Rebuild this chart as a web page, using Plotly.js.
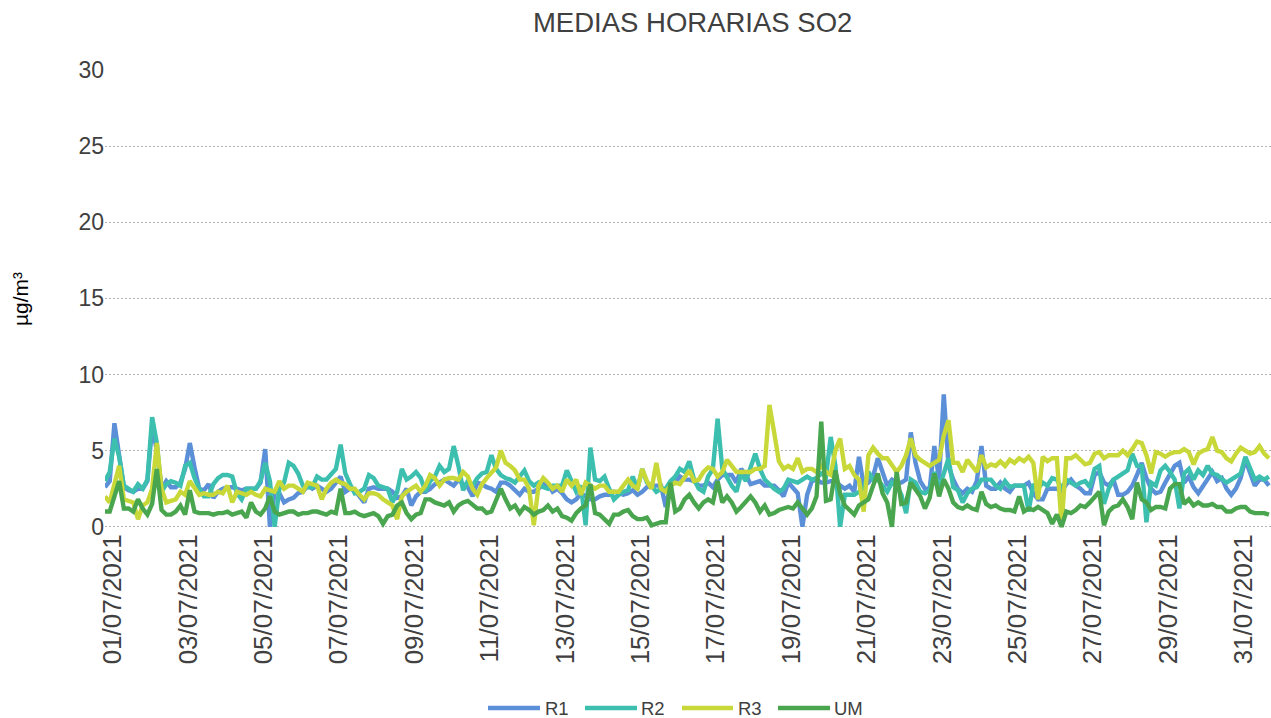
<!DOCTYPE html>
<html>
<head>
<meta charset="utf-8">
<script src="https://cdn.plot.ly/plotly-3.0.1.min.js"></script>
<style>html,body{margin:0;padding:0;background:#fff;}#chart{width:1271px;height:718px;}</style>
</head>
<body>
<div id="chart"></div>
<script>
// Hourly SO2 means, July 2021, sampled every 3 hours (8 readings per day, days 1..31)
const startDate = '2021-07-01';
const stepHours = 3;
const seriesNames = ['R1', 'R2', 'R3', 'UM'];
const tickLabels = ['01/07/2021','03/07/2021','05/07/2021','07/07/2021','09/07/2021','11/07/2021','13/07/2021','15/07/2021','17/07/2021','19/07/2021','21/07/2021','23/07/2021','25/07/2021','27/07/2021','29/07/2021','31/07/2021'];

const R1 = [
2.6,3.0,6.8,4.5,2.6,2.4,2.3,2.5,
2.5,3.0,6.6,5.0,2.5,3.0,2.6,2.6,
2.9,3.8,5.5,3.9,2.5,2.4,2.8,1.9,
2.3,2.5,2.6,2.6,2.5,2.4,2.5,2.5,
2.5,2.9,5.1,0.0,2.3,2.2,1.6,1.8,
1.9,2.2,2.3,2.7,2.5,2.7,2.5,2.3,
2.5,2.9,3.3,2.3,2.5,2.4,2.0,1.6,
2.5,2.6,2.5,2.5,2.5,2.3,1.9,2.0,
2.5,1.4,2.0,2.3,2.3,2.5,2.8,2.9,
3.1,2.9,2.7,3.1,2.8,2.6,2.0,2.9,
2.8,2.6,2.5,2.3,2.9,2.9,2.7,2.4,
2.1,2.5,2.3,2.3,2.5,2.8,2.8,2.3,
2.5,2.2,1.8,1.6,1.8,2.2,2.0,1.8,
1.8,2.0,2.1,2.1,2.3,2.2,2.1,2.2,
2.4,2.1,2.3,2.6,2.7,2.7,2.7,1.3,
2.7,2.9,3.3,3.1,3.1,3.0,2.7,2.7,
2.9,2.6,3.1,3.4,3.4,3.4,2.9,3.8,
3.4,2.8,2.9,3.0,2.7,2.7,2.7,2.4,
2.0,2.9,2.6,2.2,0.0,2.1,3.0,3.1,
2.9,2.9,3.0,3.0,2.7,2.5,2.7,2.3,
4.6,2.7,2.9,3.3,4.5,3.6,2.7,3.1,
2.9,2.9,3.1,6.2,4.2,3.0,2.5,2.5,
5.3,3.1,8.7,4.0,3.1,2.5,2.2,2.5,
2.3,3.0,5.3,2.7,2.5,2.5,2.9,2.5,
2.3,2.7,2.7,2.7,2.9,2.2,1.8,1.8,
2.5,2.5,2.5,2.3,2.8,3.1,2.7,2.5,
2.2,2.2,3.4,3.6,2.9,2.7,3.1,2.1,
2.1,2.3,2.7,3.4,4.2,3.2,2.5,2.2,
2.3,2.9,3.5,4.0,4.2,2.9,3.3,2.6,
2.2,2.7,3.1,3.6,3.0,3.2,2.5,2.1,
2.5,3.2,4.4,3.6,2.7,3.1,3.1,2.7
];

const R2 = [
3.0,3.6,5.8,4.6,2.7,2.5,2.3,2.8,
2.5,3.1,7.2,5.5,2.3,2.8,3.0,2.9,
2.7,4.0,4.2,3.2,2.5,2.0,2.0,2.8,
3.2,3.4,3.4,3.3,2.2,1.8,2.5,2.5,
2.5,3.0,4.2,3.0,0.0,2.5,2.9,4.2,
4.0,3.5,2.7,2.6,2.6,3.3,3.1,3.1,
3.5,3.8,5.4,3.5,2.8,2.2,2.3,2.5,
3.4,3.2,2.7,2.6,2.5,1.6,2.3,3.8,
3.1,3.3,3.6,3.2,2.3,3.0,3.3,4.0,
3.6,3.8,5.3,4.0,2.4,3.0,2.7,3.2,
3.5,3.6,4.7,3.8,3.4,3.2,3.1,2.9,
3.3,3.7,3.0,2.7,2.9,2.6,2.5,2.7,
2.7,2.7,3.7,2.9,2.3,2.7,0.1,5.2,
3.1,3.0,3.3,2.5,1.8,2.1,2.3,2.4,
3.3,2.5,3.8,2.9,2.7,2.3,2.5,2.5,
3.0,3.3,3.8,3.6,4.3,3.1,2.5,2.3,
3.3,3.8,7.1,3.8,3.2,2.7,2.3,3.5,
3.0,3.9,4.8,3.8,3.1,2.8,2.5,2.3,
2.5,3.1,3.0,2.9,3.1,3.3,3.1,3.2,
3.5,3.3,5.9,4.0,0.0,2.1,2.1,2.1,
2.3,2.5,3.6,3.1,3.1,2.7,2.3,2.9,
2.7,2.1,0.9,3.1,2.9,2.3,2.2,2.4,
3.6,2.5,3.6,4.5,2.6,2.4,1.6,2.2,
2.5,2.6,3.1,3.1,3.1,2.7,2.5,3.0,
2.6,2.7,2.7,2.7,1.0,2.8,2.5,2.9,
2.7,3.2,3.1,2.5,3.1,2.9,2.7,2.9,
3.0,2.6,3.8,4.0,1.5,2.5,3.1,3.3,
3.5,3.7,4.8,4.0,4.0,0.3,2.9,2.7,
3.7,4.0,3.6,3.1,1.2,3.5,3.8,3.1,
3.7,3.4,4.0,3.5,3.4,3.1,2.9,3.1,
3.3,3.5,4.6,3.8,3.1,3.3,3.1,3.3
];

const R3 = [
2.0,1.6,2.8,4.0,1.8,1.7,1.6,0.5,
1.4,1.6,2.5,5.5,2.5,1.6,1.7,1.8,
2.3,2.1,3.0,2.5,2.1,2.2,2.1,2.1,
2.3,2.2,2.7,1.6,2.3,2.2,2.1,2.3,
2.1,2.0,2.5,2.4,2.3,3.0,2.5,2.7,
2.7,2.5,2.3,2.9,2.8,2.7,1.8,2.5,
2.9,3.1,2.9,2.8,2.5,2.5,2.1,1.8,
2.2,2.2,2.1,1.8,1.6,1.4,0.5,2.0,
2.3,2.5,2.7,2.3,2.7,3.4,3.2,2.7,
3.1,3.2,3.2,3.1,3.6,3.3,2.5,2.1,
2.8,3.2,3.6,3.9,5.0,4.2,4.0,3.7,
3.1,3.1,2.5,0.1,2.7,3.2,2.9,2.5,
2.7,2.3,3.1,2.7,3.1,2.1,2.9,2.7,
2.5,2.7,2.7,2.3,2.3,2.3,2.7,3.1,
2.7,2.5,3.8,3.0,2.5,4.2,2.5,2.3,
2.7,2.9,2.8,3.2,3.7,3.0,3.1,3.6,
3.9,3.8,3.3,3.6,4.4,4.0,3.6,3.6,
3.6,3.6,3.8,3.8,4.0,8.0,6.2,4.3,
3.8,4.0,3.8,4.5,3.6,3.8,3.8,3.6,
4.0,3.6,3.4,5.0,5.8,3.8,4.0,3.4,
3.1,1.0,4.7,5.2,4.8,4.5,4.5,4.0,
3.6,4.0,4.7,5.8,4.7,4.4,4.2,4.0,
4.2,4.4,6.0,7.0,4.2,4.2,3.6,4.4,
4.0,3.6,4.7,3.9,4.1,4.0,4.3,4.0,
4.4,4.2,4.5,4.3,4.6,4.2,1.8,4.6,
4.3,4.5,4.5,0.1,4.5,4.5,4.7,4.4,
4.1,4.2,4.8,4.9,4.5,4.7,4.7,4.7,
5.0,4.7,5.1,5.6,5.5,4.7,3.5,4.9,
4.8,4.6,4.8,4.9,4.9,5.1,4.9,4.1,
4.8,5.0,5.1,5.9,5.0,4.9,4.5,4.3,
4.8,5.2,5.0,4.8,4.9,5.3,4.8,4.5
];

const UM = [
1.0,1.0,2.0,3.0,1.2,1.2,1.0,1.8,
1.2,0.8,1.5,3.8,1.1,0.8,0.8,1.0,
1.4,0.8,2.4,1.0,0.9,0.9,0.9,0.8,
0.9,0.9,1.0,0.8,0.9,1.0,0.6,1.6,
1.0,0.8,1.2,2.0,1.0,0.8,0.9,1.0,
1.0,0.8,0.9,0.9,1.0,1.0,0.9,0.8,
1.0,0.9,2.5,0.9,0.9,1.0,0.8,0.7,
0.8,0.9,0.7,0.2,0.7,0.8,1.4,1.6,
0.9,0.5,0.8,0.9,1.8,1.8,1.6,1.5,
1.4,1.6,1.0,1.4,1.6,1.7,1.4,1.2,
1.2,0.9,1.0,1.7,2.5,1.8,1.2,1.4,
0.9,1.3,1.1,0.8,1.0,1.1,1.4,1.0,
1.2,0.7,0.6,0.4,0.9,1.2,1.4,2.8,
0.9,0.8,0.5,0.2,0.8,0.8,1.0,1.1,
0.7,0.5,0.5,0.6,0.1,0.2,0.3,0.3,
2.9,1.0,1.2,1.8,2.1,1.6,1.2,1.6,
1.8,1.6,3.0,1.6,2.0,1.6,1.0,1.3,
1.6,2.0,1.6,1.0,1.4,0.8,0.9,1.1,
1.2,1.3,1.2,1.6,1.2,0.8,1.2,2.0,
6.9,1.7,1.8,3.7,2.2,1.4,1.1,0.8,
1.4,1.6,1.8,2.7,3.5,2.2,1.6,0.0,
3.6,1.5,1.6,2.9,2.5,2.0,1.2,1.9,
3.5,2.0,3.1,2.5,1.6,1.3,1.2,1.4,
1.2,1.1,2.3,1.5,1.3,1.4,1.2,1.1,
1.1,1.0,2.0,1.0,1.2,1.1,1.3,1.1,
0.9,0.2,0.8,0.0,1.0,0.9,1.1,1.4,
1.3,1.6,2.0,2.3,0.1,1.0,1.3,1.4,
1.8,1.3,0.5,2.9,1.8,1.6,1.1,1.3,
1.3,1.2,2.5,2.8,2.8,1.5,1.8,1.4,
1.6,1.4,1.4,1.5,1.3,1.3,1.0,1.0,
1.2,1.3,1.3,1.0,0.9,0.9,0.9,0.8
];

const colors = {R1:'#5b8fd8', R2:'#3cbfae', R3:'#c8d838', UM:'#4aa64e'};
const values = {R1:R1, R2:R2, R3:R3, UM:UM};

function timeAt(i){
  const base = Date.parse(startDate + 'T00:00:00Z');
  return new Date(base + i*stepHours*3600000).toISOString().slice(0,16).replace('T',' ');
}
function labelToDate(lbl, hourOffset){
  const p = lbl.split('/');
  return p[2] + '-' + p[1] + '-' + p[0] + ' ' + String(hourOffset).padStart(2,'0') + ':00';
}

const traces = seriesNames.map(function(name){
  const ys = values[name];
  return {
    type:'scatter', mode:'lines', name:name, showlegend:false,
    x: ys.map(function(_, i){ return timeAt(i); }),
    y: ys,
    line:{color:colors[name], width:4.4}
  };
});

// Custom legend (long line samples like the original), placed in paper coordinates
const L = 105, W = 1166, T = 70, H = 458;
function px2x(px){ return (px - L) / W; }
function py2y(py){ return (T + H - py) / H; }
const legendItems = [
  {name:'R1', x0:488, x1:540, tx:543},
  {name:'R2', x0:585, x1:637, tx:639},
  {name:'R3', x0:682, x1:733, tx:736},
  {name:'UM', x0:778, x1:830, tx:832}
];
const legendY = 708;
const shapes = legendItems.map(function(it){
  return {type:'line', xref:'paper', yref:'paper', x0:px2x(it.x0), x1:px2x(it.x1), y0:py2y(legendY), y1:py2y(legendY),
          line:{color:colors[it.name], width:4.5}, layer:'above'};
});
const annotations = legendItems.map(function(it){
  return {xref:'paper', yref:'paper', x:px2x(it.tx), y:py2y(legendY), xanchor:'left', yanchor:'middle',
          text:it.name, showarrow:false, font:{size:18.5, color:'#404040'}};
});

const layout = {
  width:1271, height:718,
  paper_bgcolor:'#ffffff', plot_bgcolor:'#ffffff',
  font:{family:'"Liberation Sans", Arial, sans-serif', color:'#404040'},
  margin:{l:L, r:0, t:T, b:718 - T - H},
  title:{text:'MEDIAS HORARIAS SO2', font:{size:27.5, color:'#404040'}, x:0.504, xref:'paper', y:0.969, yref:'container', yanchor:'middle'},
  showlegend:false,
  shapes:shapes,
  annotations:annotations,
  xaxis:{
    type:'date',
    range:['2021-07-01 00:00','2021-07-31 22:19'],
    tickmode:'array',
    tickvals: tickLabels.map(function(l){ return labelToDate(l, 5); }),
    ticktext: tickLabels,
    tickangle:-90,
    tickfont:{size:26, color:'#404040'},
    showgrid:false, zeroline:false, showline:false, ticks:''
  },
  yaxis:{
    range:[-0.08,30], tickvals:[0,5,10,15,20,25,30], ticktext:['0','5','10','15','20','25','30'],
    tickfont:{size:23, color:'#404040'},
    showgrid:true, gridcolor:'#b3b3b3', griddash:'2px,2px', gridwidth:1.2,
    zeroline:false, showline:false, ticks:'',
    title:{text:'µg/m³', font:{size:21, color:'#000000'}, standoff:44}
  }
};

Plotly.newPlot('chart', traces, layout, {displayModeBar:false, staticPlot:true});
</script>
</body>
</html>
